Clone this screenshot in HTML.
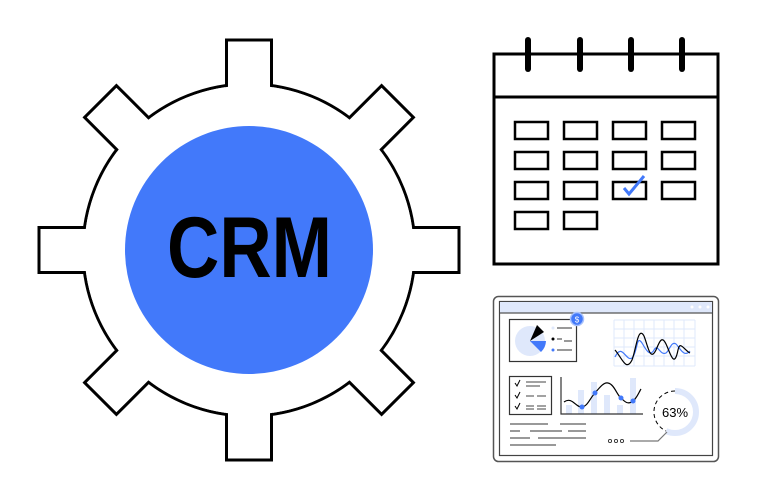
<!DOCTYPE html>
<html><head><meta charset="utf-8"><style>
html,body{margin:0;padding:0;background:#fff;}
svg{display:block;}
</style></head><body>
<svg width="757" height="500" viewBox="0 0 757 500" xmlns="http://www.w3.org/2000/svg">
<!-- Gear -->
<g transform="translate(249,250)">
  <circle r="166" fill="#fff" stroke="#000" stroke-width="3"/>
  <g fill="#fff" stroke="#000" stroke-width="3">
    <rect x="-22.5" y="-210" width="45" height="60"/>
    <rect x="-22.5" y="-210" width="45" height="60" transform="rotate(45)"/>
    <rect x="-22.5" y="-210" width="45" height="60" transform="rotate(90)"/>
    <rect x="-22.5" y="-210" width="45" height="60" transform="rotate(135)"/>
    <rect x="-22.5" y="-210" width="45" height="60" transform="rotate(180)"/>
    <rect x="-22.5" y="-210" width="45" height="60" transform="rotate(225)"/>
    <rect x="-22.5" y="-210" width="45" height="60" transform="rotate(270)"/>
    <rect x="-22.5" y="-210" width="45" height="60" transform="rotate(315)"/>
  </g>
  <circle r="164.6" fill="#fff"/>
  <circle r="124" fill="#4279fa"/>
  <text x="-82" y="27" textLength="165" lengthAdjust="spacingAndGlyphs" font-family="'Liberation Sans',sans-serif" font-weight="bold" font-size="86" fill="#000">CRM</text>
</g>

<!-- Calendar -->
<g fill="none" stroke="#000" stroke-width="3">
  <rect x="494" y="54" width="224" height="210"/>
  <line x1="494" y1="97" x2="718" y2="97"/>
</g>
<g stroke="#000" stroke-width="6" stroke-linecap="round">
  <line x1="528" y1="40" x2="528" y2="69"/>
  <line x1="580" y1="40" x2="580" y2="69"/>
  <line x1="631" y1="40" x2="631" y2="69"/>
  <line x1="682" y1="40" x2="682" y2="69"/>
</g>
<g fill="none" stroke="#000" stroke-width="2.5">
  <rect x="515" y="122" width="33" height="17"/><rect x="564" y="122" width="33" height="17"/><rect x="613" y="122" width="33" height="17"/><rect x="662" y="122" width="33" height="17"/>
  <rect x="515" y="152" width="33" height="17"/><rect x="564" y="152" width="33" height="17"/><rect x="613" y="152" width="33" height="17"/><rect x="662" y="152" width="33" height="17"/>
  <rect x="515" y="182" width="33" height="17"/><rect x="564" y="182" width="33" height="17"/><rect x="613" y="182" width="33" height="17"/><rect x="662" y="182" width="33" height="17"/>
  <rect x="515" y="212" width="33" height="17"/><rect x="564" y="212" width="33" height="17"/>
</g>
<polyline points="624,188 629,194 644,176" fill="none" stroke="#4279fa" stroke-width="3"/>

<!-- Dashboard -->
<rect x="493.5" y="296.5" width="225" height="165" rx="5" fill="#fff" stroke="#555" stroke-width="1.5"/>
<rect x="499.5" y="301.5" width="213" height="154" fill="#fff" stroke="#444" stroke-width="1.2"/>
<rect x="500" y="302" width="212" height="11" fill="#dfe8fb"/>
<line x1="500" y1="313" x2="712" y2="313" stroke="#555" stroke-width="1.2"/>
<g fill="#fff"><circle cx="692" cy="307" r="1.5"/><circle cx="700" cy="307" r="1.5"/><circle cx="708" cy="307" r="1.5"/></g>

<!-- pie card -->
<rect x="509.5" y="319.5" width="67" height="42" fill="#fff" stroke="#333" stroke-width="1.2"/>
<circle cx="530" cy="341" r="15" fill="#dfe8fb"/>
<path d="M530,341 L544,332 L537,325 Z" fill="#000"/>
<path d="M530,341 L546,341 A16,16 0 0 1 541,352 Z" fill="#4279fa"/>
<g stroke="#333" stroke-width="1"><line x1="557" y1="328" x2="572" y2="328"/><line x1="557" y1="339" x2="562" y2="339"/><line x1="564" y1="341" x2="572" y2="341"/><line x1="557" y1="350" x2="572" y2="350"/></g>
<circle cx="553" cy="328" r="1.5" fill="#dfe8fb"/><circle cx="553" cy="339" r="1.5" fill="#000"/><circle cx="553" cy="350" r="1.5" fill="#4279fa"/>
<circle cx="577" cy="319" r="6.5" fill="#4279fa" stroke="#a9c2fb" stroke-width="1.5"/>
<text x="577" y="322.5" text-anchor="middle" font-family="'Liberation Sans',sans-serif" font-size="8" fill="#fff">$</text>

<!-- grid chart -->
<g stroke="#dfe8fb" stroke-width="1">
  <line x1="614" y1="320" x2="695" y2="320"/><line x1="614" y1="329" x2="695" y2="329"/><line x1="614" y1="338" x2="695" y2="338"/><line x1="614" y1="347" x2="695" y2="347"/><line x1="614" y1="356" x2="695" y2="356"/><line x1="614" y1="366" x2="695" y2="366"/>
  <line x1="614" y1="320" x2="614" y2="366"/><line x1="624" y1="320" x2="624" y2="366"/><line x1="634" y1="320" x2="634" y2="366"/><line x1="644" y1="320" x2="644" y2="366"/><line x1="654" y1="320" x2="654" y2="366"/><line x1="664" y1="320" x2="664" y2="366"/><line x1="674" y1="320" x2="674" y2="366"/><line x1="684" y1="320" x2="684" y2="366"/><line x1="695" y1="320" x2="695" y2="366"/>
</g>
<path d="M615,357 C622,342 626,362 632,358 C638,352 636,334 642,343 C646,350 650,357 654,350 C658,343 660,356 666,353 C670,350 671,341 676,344 C680,348 684,358 690,351" fill="none" stroke="#4279fa" stroke-width="1.2"/>
<path d="M615,350 C622,358 626,372 632,360 C636,350 638,325 644,336 C648,346 650,362 656,350 C660,340 662,336 666,344 C670,352 674,370 678,350 C680,340 684,350 690,353" fill="none" stroke="#000" stroke-width="1.2"/>

<!-- checklist -->
<rect x="509.5" y="376.5" width="42" height="38" fill="#fff" stroke="#333" stroke-width="1.2"/>
<g fill="none" stroke="#000" stroke-width="1"><polyline points="515,383 517,386 520,380"/><polyline points="515,395 517,398 520,392"/><polyline points="515,406 517,409 520,403"/></g>
<g stroke="#444" stroke-width="1"><line x1="526" y1="382" x2="546" y2="382"/><line x1="526" y1="386" x2="540" y2="386"/><line x1="526" y1="396" x2="534" y2="396"/><line x1="537" y1="396" x2="546" y2="396"/><line x1="526" y1="406" x2="534" y2="406"/><line x1="537" y1="406" x2="546" y2="406"/><line x1="526" y1="409" x2="534" y2="409"/><line x1="537" y1="409" x2="546" y2="409"/></g>

<!-- bar chart -->
<g fill="#dfe8fb"><rect x="566" y="405" width="6" height="9"/><rect x="578" y="390" width="6" height="24"/><rect x="591" y="382" width="6" height="32"/><rect x="604" y="395" width="6" height="19"/><rect x="617" y="405" width="6" height="9"/><rect x="630" y="378" width="6" height="36"/></g>
<polyline points="561,377 561,414 643,414" fill="none" stroke="#333" stroke-width="1.2"/>
<path d="M564,402 C572,396 576,408 582,407 C588,406 590,398 595,393 C600,387 604,382 608,383 C614,384 617,395 621,398 C625,402 628,405 633,401 C637,398 639,392 641,389" fill="none" stroke="#000" stroke-width="1.2"/>
<g fill="#4279fa"><circle cx="582" cy="407" r="2.5"/><circle cx="595" cy="393" r="2.5"/><circle cx="621" cy="398" r="2.5"/><circle cx="633" cy="401" r="2.5"/></g>

<!-- donut -->
<circle cx="675" cy="412" r="21" fill="none" stroke="#dfe8fb" stroke-width="6"/>
<path d="M675,391 A21,21 0 0 0 666,431" fill="none" stroke="#fff" stroke-width="7"/>
<path d="M675,391 A21,21 0 0 0 666,431" fill="none" stroke="#000" stroke-width="1" stroke-dasharray="4,3"/>
<text x="675" y="417" text-anchor="middle" font-family="'Liberation Sans',sans-serif" font-size="13" fill="#000">63%</text>
<polyline points="630,441 658,441 667,432" fill="none" stroke="#777" stroke-width="1.2"/>
<g fill="none" stroke="#333" stroke-width="0.9"><circle cx="610" cy="441" r="1.6"/><circle cx="616" cy="441" r="1.6"/><circle cx="622" cy="441" r="1.6"/></g>

<!-- text lines -->
<g stroke="#333" stroke-width="1"><line x1="510" y1="424" x2="548" y2="424"/><line x1="560" y1="424" x2="586" y2="424"/><line x1="510" y1="431" x2="520" y2="431"/><line x1="530" y1="431" x2="562" y2="431"/><line x1="568" y1="431" x2="586" y2="431"/><line x1="510" y1="438" x2="530" y2="438"/><line x1="538" y1="438" x2="586" y2="438"/><line x1="510" y1="445" x2="556" y2="445"/></g>
</svg>
</body></html>
